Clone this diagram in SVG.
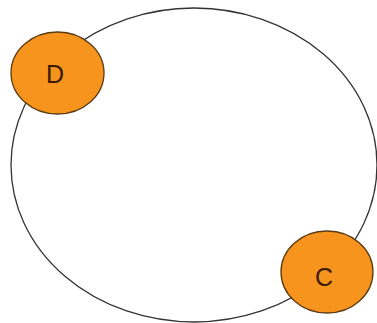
<svg xmlns="http://www.w3.org/2000/svg" width="377" height="323" viewBox="0 0 377 323">
  <style>
    .ring { fill: none; stroke: #333; stroke-width: 1.3; }
    .node ellipse { fill: #f7941d; stroke: #5a3a12; stroke-width: 1.3; }
    .node text { font-family: "Liberation Sans", Arial, sans-serif; font-size: 25px; fill: #3a1a00; text-anchor: middle; }
  </style>
  <rect width="377" height="323" fill="#fff"/>
  <g id="connectors">
    <ellipse class="ring" cx="194" cy="165" rx="183" ry="157"/>
  </g>
  <g id="node-d" class="node">
    <ellipse cx="57.5" cy="73" rx="46.5" ry="41"/>
    <text x="55" y="83">D</text>
  </g>
  <g id="node-c" class="node">
    <ellipse cx="327" cy="272" rx="46" ry="41"/>
    <text x="324" y="286">C</text>
  </g>
</svg>
